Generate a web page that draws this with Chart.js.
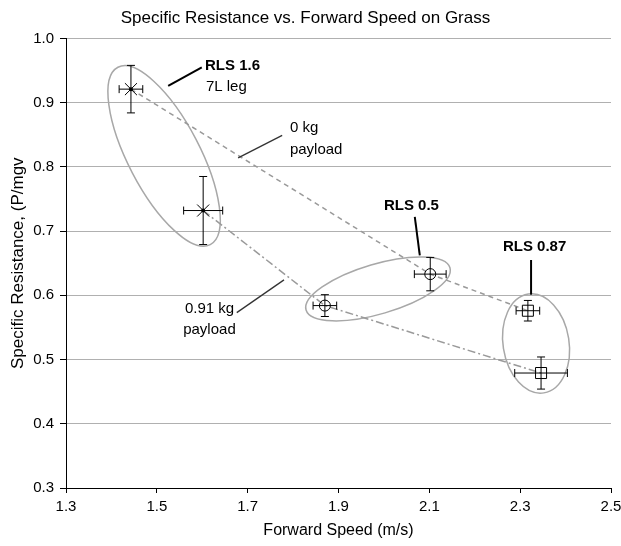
<!DOCTYPE html>
<html>
<head>
<meta charset="utf-8">
<script src="https://cdn.jsdelivr.net/npm/chart.js@4.4.1/dist/chart.umd.min.js"></script>
<style>
  html, body { margin: 0; padding: 0; background: #ffffff; }
  #wrap { width: 621px; height: 546px; }
</style>
</head>
<body>
<div id="wrap"><canvas id="c" width="621" height="546"></canvas></div>
<script>
// ---- data ----
const rlsNames = ['RLS 1.6', 'RLS 0.5', 'RLS 0.87'];
const speed0 = [1.443, 2.102, 2.317];
const speedErr0 = [0.026, 0.035, 0.026];
const sr0 = [0.921, 0.633, 0.576];
const srErr0 = [0.037, 0.026, 0.016];
const speed91 = [1.602, 1.870, 2.346];
const speedErr91 = [0.043, 0.026, 0.058];
const sr91 = [0.732, 0.584, 0.479];
const srErr91 = [0.053, 0.017, 0.025];
const xTicks = [1.3, 1.5, 1.7, 1.9, 2.1, 2.3, 2.5];
const yTicks = [0.3, 0.4, 0.5, 0.6, 0.7, 0.8, 0.9, 1.0];

const FONT = "'Liberation Sans', Arial, sans-serif";

// ---- annotation layout (data-space anchors, pixel sizes) ----
const ellipses = [
  { cx: 1.516, cy: 0.817, a: 100, b: 36, angle: 62.5 },
  { cx: 1.987, cy: 0.610, a: 75, b: 25, angle: -16.4 },
  { cx: 2.335, cy: 0.525, a: 50, b: 33, angle: 81 }
];
const leaders = [
  { x1: 1.525, y1: 0.926, x2: 1.599, y2: 0.955, color: '#000', width: 2 },
  { x1: 1.679, y1: 0.814, x2: 1.776, y2: 0.849, color: '#333', width: 1.3 },
  { x1: 1.676, y1: 0.573, x2: 1.780, y2: 0.624, color: '#333', width: 1.3 },
  { x1: 2.068, y1: 0.722, x2: 2.079, y2: 0.662, color: '#000', width: 2 },
  { x1: 2.324, y1: 0.655, x2: 2.324, y2: 0.601, color: '#000', width: 2 }
];
const notes = [
  { text: rlsNames[0], x: 1.606, y: 0.957, bold: true },
  { text: '7L leg', x: 1.608, y: 0.925, bold: false },
  { text: '0 kg', x: 1.793, y: 0.860, bold: false },
  { text: 'payload', x: 1.793, y: 0.826, bold: false },
  { text: '0.91 kg', x: 1.562, y: 0.579, bold: false },
  { text: 'payload', x: 1.558, y: 0.546, bold: false },
  { text: rlsNames[1], x: 2.000, y: 0.739, bold: true },
  { text: rlsNames[2], x: 2.262, y: 0.675, bold: true }
];

function pts(xs, ys) { return xs.map((x, i) => ({ x: x, y: ys[i] })); }

const ellipsePlugin = {
  id: 'ellipses',
  beforeDatasetsDraw(chart) {
    const { ctx, scales: { x, y } } = chart;
    ctx.save();
    ctx.strokeStyle = '#a8a8a8';
    ctx.lineWidth = 1.5;
    ellipses.forEach(e => {
      ctx.beginPath();
      ctx.ellipse(x.getPixelForValue(e.cx), y.getPixelForValue(e.cy), e.a, e.b, e.angle * Math.PI / 180, 0, Math.PI * 2);
      ctx.stroke();
    });
    ctx.restore();
  }
};

const errorBarPlugin = {
  id: 'errorBars',
  afterDatasetsDraw(chart) {
    const { ctx, scales: { x, y } } = chart;
    const cap = 4;
    ctx.save();
    ctx.strokeStyle = '#000';
    ctx.fillStyle = '#000';
    ctx.lineWidth = 1;
    chart.data.datasets.forEach(ds => {
      ds.data.forEach((p, i) => {
        const px = x.getPixelForValue(p.x), py = y.getPixelForValue(p.y);
        const xl = x.getPixelForValue(p.x - ds.xErr[i]), xr = x.getPixelForValue(p.x + ds.xErr[i]);
        const yt = y.getPixelForValue(p.y + ds.yErr[i]), yb = y.getPixelForValue(p.y - ds.yErr[i]);
        ctx.beginPath();
        ctx.moveTo(xl, py); ctx.lineTo(xr, py);
        ctx.moveTo(xl, py - cap); ctx.lineTo(xl, py + cap);
        ctx.moveTo(xr, py - cap); ctx.lineTo(xr, py + cap);
        ctx.moveTo(px, yt); ctx.lineTo(px, yb);
        ctx.moveTo(px - cap, yt); ctx.lineTo(px + cap, yt);
        ctx.moveTo(px - cap, yb); ctx.lineTo(px + cap, yb);
        ctx.stroke();
        if (ds.pointStyle[i] === 'crossRot') {
          ctx.beginPath();
          ctx.arc(px, py, 2, 0, Math.PI * 2);
          ctx.fill();
        }
      });
    });
    ctx.restore();
  }
};

const notesPlugin = {
  id: 'notes',
  afterDraw(chart) {
    const { ctx, scales: { x, y } } = chart;
    ctx.save();
    leaders.forEach(l => {
      ctx.beginPath();
      ctx.strokeStyle = l.color;
      ctx.lineWidth = l.width;
      ctx.moveTo(x.getPixelForValue(l.x1), y.getPixelForValue(l.y1));
      ctx.lineTo(x.getPixelForValue(l.x2), y.getPixelForValue(l.y2));
      ctx.stroke();
    });
    ctx.fillStyle = '#000';
    ctx.textAlign = 'left';
    ctx.textBaseline = 'middle';
    notes.forEach(n => {
      ctx.font = (n.bold ? 'bold ' : '') + '15px ' + FONT;
      ctx.fillText(n.text, x.getPixelForValue(n.x), y.getPixelForValue(n.y));
    });
    ctx.restore();
  }
};

new Chart(document.getElementById('c'), {
  type: 'scatter',
  data: {
    datasets: [
      {
        label: '0 kg payload',
        data: pts(speed0, sr0),
        xErr: speedErr0,
        yErr: srErr0,
        showLine: true,
        borderColor: '#9a9a9a',
        borderWidth: 1.5,
        borderDash: [5, 4],
        pointStyle: ['crossRot', 'circle', 'rect'],
        pointRadius: [8.5, 5.5, 7.8],
        pointBorderColor: '#000',
        pointBackgroundColor: 'rgba(0,0,0,0)',
        pointBorderWidth: 1
      },
      {
        label: '0.91 kg payload',
        data: pts(speed91, sr91),
        xErr: speedErr91,
        yErr: srErr91,
        showLine: true,
        borderColor: '#9a9a9a',
        borderWidth: 1.5,
        borderDash: [8, 3, 2, 3],
        pointStyle: ['crossRot', 'circle', 'rect'],
        pointRadius: [8.5, 5.5, 7.8],
        pointBorderColor: '#000',
        pointBackgroundColor: 'rgba(0,0,0,0)',
        pointBorderWidth: 1
      }
    ]
  },
  options: {
    responsive: false,
    animation: false,
    layout: { padding: { left: 0, right: 10, top: 0, bottom: 0 } },
    plugins: {
      legend: { display: false },
      tooltip: { enabled: false },
      title: {
        display: true,
        text: 'Specific Resistance vs. Forward Speed on Grass',
        color: '#000',
        font: { family: FONT, size: 17, weight: 'normal' },
        padding: { top: 8, bottom: 10 }
      }
    },
    scales: {
      x: {
        type: 'linear',
        min: 1.3, max: 2.5,
        afterFit(s) { s.height = 58; s.paddingLeft = 0; s.paddingRight = 0; },
        afterBuildTicks(s) { s.ticks = xTicks.map(v => ({ value: v })); },
        ticks: {
          color: '#000',
          font: { family: FONT, size: 15 },
          padding: 5,
          maxRotation: 0,
          callback: v => v.toFixed(1)
        },
        grid: { drawOnChartArea: false, drawTicks: true, tickLength: 5, tickColor: '#000' },
        border: { display: true, color: '#000', width: 1 },
        title: {
          display: true,
          text: 'Forward Speed (m/s)',
          color: '#000',
          font: { family: FONT, size: 16 },
          padding: { top: 4, bottom: 6 }
        }
      },
      y: {
        type: 'linear',
        min: 0.3, max: 1.0,
        afterFit(s) { s.width = 66; s.paddingTop = 0; s.paddingBottom = 0; },
        afterBuildTicks(s) { s.ticks = yTicks.map(v => ({ value: v })); },
        ticks: {
          color: '#000',
          font: { family: FONT, size: 15 },
          padding: 6,
          callback: v => v.toFixed(1)
        },
        grid: { color: '#b0b0b0', lineWidth: 1, drawTicks: true, tickLength: 6, tickColor: '#000' },
        border: { display: true, color: '#000', width: 1 },
        title: {
          display: true,
          text: 'Specific Resistance, (P/mgv',
          color: '#000',
          font: { family: FONT, size: 17 },
          padding: { top: 8, bottom: 4 }
        }
      }
    }
  },
  plugins: [ellipsePlugin, errorBarPlugin, notesPlugin]
});
</script>
</body>
</html>
